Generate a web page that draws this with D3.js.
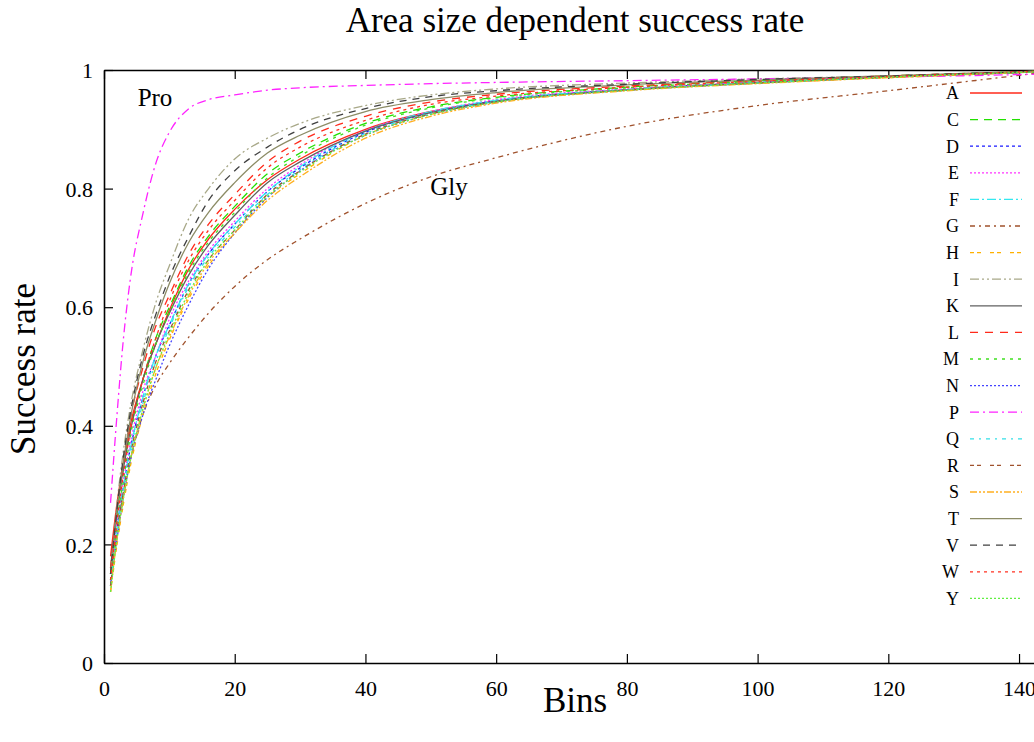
<html>
<head>
<meta charset="utf-8">
<style>
body { margin: 0; background: #fff; }
text { font-family: "Liberation Serif", "Times New Roman", serif; fill: #000; }
</style>
</head>
<body>
<div id="chart"></div>
<script src="https://cdn.jsdelivr.net/npm/d3@7"></script>
<script>
var bins = [1, 2, 3, 4, 6, 8, 10, 13, 16, 20, 25, 30, 40, 50, 60, 80, 100, 120, 143];

var names = ["A", "C", "D", "E", "F", "G", "H", "I", "K", "L", "M", "N", "P", "Q", "R", "S", "T", "V", "W", "Y"];

var A = [0.18,0.27,0.34,0.40,0.48,0.54,0.595,0.665,0.715,0.765,0.815,0.85,0.90,0.93,0.948,0.967,0.979,0.988,0.997];
var C = [0.15,0.25,0.33,0.39,0.48,0.55,0.60,0.67,0.72,0.77,0.825,0.86,0.91,0.938,0.954,0.971,0.982,0.99,0.998];
var D = [0.14,0.23,0.30,0.36,0.45,0.52,0.57,0.64,0.69,0.74,0.795,0.835,0.895,0.928,0.948,0.967,0.979,0.988,0.997];
var E = [0.15,0.24,0.31,0.37,0.46,0.52,0.58,0.645,0.695,0.745,0.80,0.84,0.898,0.93,0.95,0.968,0.979,0.988,0.997];
var F = [0.13,0.23,0.30,0.36,0.45,0.52,0.57,0.64,0.69,0.74,0.795,0.837,0.897,0.93,0.949,0.967,0.979,0.988,0.997];
var G = [0.13,0.22,0.29,0.34,0.42,0.47,0.505,0.55,0.59,0.635,0.68,0.715,0.775,0.82,0.852,0.905,0.94,0.965,0.995];
var H = [0.12,0.20,0.27,0.33,0.42,0.49,0.545,0.615,0.67,0.725,0.785,0.825,0.89,0.925,0.946,0.966,0.978,0.987,0.997];
var I = [0.15,0.27,0.36,0.43,0.53,0.61,0.67,0.75,0.80,0.85,0.885,0.91,0.94,0.958,0.968,0.978,0.985,0.99,0.998];
var K = [0.16,0.26,0.33,0.39,0.48,0.54,0.59,0.655,0.705,0.755,0.81,0.845,0.897,0.928,0.947,0.966,0.978,0.988,0.997];
var L = [0.16,0.26,0.34,0.41,0.50,0.57,0.62,0.69,0.74,0.79,0.845,0.88,0.922,0.946,0.959,0.973,0.982,0.99,0.998];
var M = [0.14,0.24,0.31,0.38,0.47,0.54,0.59,0.66,0.71,0.76,0.818,0.855,0.907,0.936,0.953,0.97,0.981,0.989,0.998];
var N = [0.13,0.21,0.28,0.34,0.42,0.48,0.535,0.605,0.665,0.725,0.785,0.83,0.89,0.925,0.946,0.966,0.978,0.988,0.997];
var P = [0.27,0.42,0.55,0.645,0.76,0.845,0.895,0.935,0.95,0.958,0.966,0.97,0.974,0.977,0.979,0.982,0.985,0.988,0.993];
var Q = [0.13,0.22,0.29,0.35,0.44,0.51,0.565,0.635,0.685,0.735,0.79,0.832,0.893,0.927,0.947,0.966,0.978,0.988,0.997];
var R = [0.13,0.22,0.29,0.35,0.44,0.51,0.56,0.63,0.68,0.73,0.79,0.83,0.892,0.926,0.946,0.966,0.978,0.988,0.997];
var S = [0.12,0.21,0.28,0.34,0.43,0.50,0.55,0.62,0.675,0.725,0.78,0.82,0.885,0.922,0.944,0.965,0.977,0.987,0.997];
var T = [0.15,0.26,0.34,0.41,0.51,0.58,0.64,0.71,0.76,0.81,0.86,0.89,0.93,0.95,0.962,0.975,0.983,0.99,0.998];
var V = [0.15,0.26,0.35,0.42,0.52,0.59,0.65,0.72,0.78,0.83,0.87,0.90,0.935,0.955,0.965,0.976,0.984,0.99,0.998];
var W = [0.14,0.24,0.32,0.39,0.48,0.55,0.61,0.68,0.73,0.78,0.835,0.87,0.915,0.942,0.956,0.971,0.981,0.989,0.998];
var Y = [0.12,0.21,0.28,0.34,0.43,0.50,0.555,0.625,0.68,0.73,0.787,0.828,0.89,0.925,0.946,0.966,0.978,0.988,0.997];

var xTicks = [0, 20, 40, 60, 80, 100, 120, 140];
var yTicks = [0, 0.2, 0.4, 0.6, 0.8, 1];

var series = [A, C, D, E, F, G, H, I, K, L, M, N, P, Q, R, S, T, V, W, Y];

// gnuplot style colour / dash cycle
var colors = {
    A: "#ff2a1a", C: "#22e000", D: "#1a1aff", E: "#ff33ff", F: "#33e8f0",
    G: "#a0522d", H: "#ffb000", I: "#a8a888", K: "#606060", L: "#ff2a1a",
    M: "#40e020", N: "#4444ff", P: "#ff22ff", Q: "#33e0e8", R: "#a0522d",
    S: "#ffb020", T: "#8c8c66", V: "#404040", W: "#ff3020", Y: "#60f040"
};
var dashes = {
    A: null, C: "8,6", D: "3,3", E: "2,2", F: "9,3,2,3",
    G: "5,4,2,4", H: "4,3,4,9", I: "9,3,2,3,2,3", K: null, L: "8,7",
    M: "3,5", N: "2,2", P: "9,4,2,4", Q: "4,5,2,5", R: "4,3,4,9",
    S: "7,2,2,2,2,2", T: null, V: "7,6", W: "3,4", Y: "2,2"
};

var svgW = 1034, svgH = 742;
var svg = d3.select("#chart").append("svg")
    .attr("width", svgW).attr("height", svgH);

// frame goes beyond the window on the right, as in the picture
var x = d3.scaleLinear().domain([0, 150]).range([104, 104 + 150 * 6.536]);
var y = d3.scaleLinear().domain([0, 1]).range([663, 70]);

svg.append("defs").append("clipPath").attr("id", "plotclip")
    .append("rect").attr("x", 104).attr("y", 60).attr("width", svgW - 104).attr("height", 610);

//Axes with gnuplot style inward ticks
var axBottom = svg.append("g").attr("transform", "translate(0,663)")
    .call(d3.axisBottom(x).tickValues(xTicks).tickSizeInner(-9).tickSizeOuter(0).tickPadding(17));
var axTop = svg.append("g").attr("transform", "translate(0,70)")
    .call(d3.axisTop(x).tickValues(xTicks).tickSizeInner(-9).tickSizeOuter(0).tickFormat(""));
var axLeft = svg.append("g").attr("transform", "translate(104,0)")
    .call(d3.axisLeft(y).tickValues(yTicks).tickSizeInner(-9).tickSizeOuter(0).tickPadding(11)
        .tickFormat(function (d) { return d3.format("")(+d.toFixed(1)); }));

[axBottom, axTop, axLeft].forEach(function (g) {
    g.select(".domain").attr("stroke", "#000").attr("stroke-width", 1.6);
    g.selectAll(".tick line").attr("stroke", "#000").attr("stroke-width", 1.2);
    g.selectAll("text").style("font-size", "22px")
        .style("font-family", "'Liberation Serif', serif").attr("fill", "#000");
});
axBottom.selectAll("text").attr("dy", "0.71em");
axLeft.selectAll("text").attr("dy", "0.35em");

var line = d3.line()
    .x(function (d) { return x(d[0]); })
    .y(function (d) { return y(d[1]); })
    .curve(d3.curveMonotoneX);

var plot = svg.append("g").attr("clip-path", "url(#plotclip)");
series.forEach(function (vals, i) {
    var n = names[i];
    plot.append("path")
        .datum(bins.map(function (b, j) { return [b, vals[j]]; }))
        .attr("d", line)
        .attr("fill", "none")
        .attr("stroke", colors[n])
        .attr("stroke-width", 1.3)
        .attr("stroke-dasharray", dashes[n]);
});

// legend
names.forEach(function (n, i) {
    var ly = 93 + i * 26.6;
    svg.append("text").attr("x", 959).attr("y", ly).attr("dy", "0.35em")
        .attr("text-anchor", "end").style("font-size", "18px").text(n);
    svg.append("line").attr("x1", 970).attr("x2", 1022).attr("y1", ly).attr("y2", ly)
        .attr("stroke", colors[n]).attr("stroke-width", 1.3)
        .attr("stroke-dasharray", dashes[n]);
});

// annotations
svg.append("text").attr("x", 155).attr("y", 106).attr("text-anchor", "middle")
    .style("font-size", "25px").text("Pro");
svg.append("text").attr("x", 449).attr("y", 195).attr("text-anchor", "middle")
    .style("font-size", "25px").text("Gly");

// titles
svg.append("text").attr("x", 575).attr("y", 32).attr("text-anchor", "middle")
    .style("font-size", "35px").text("Area size dependent success rate");
svg.append("text").attr("x", 575).attr("y", 712).attr("text-anchor", "middle")
    .style("font-size", "35px").text("Bins");
svg.append("text").attr("transform", "translate(35,369) rotate(-90)").attr("text-anchor", "middle")
    .style("font-size", "35px").text("Success rate");
</script>
</body>
</html>
